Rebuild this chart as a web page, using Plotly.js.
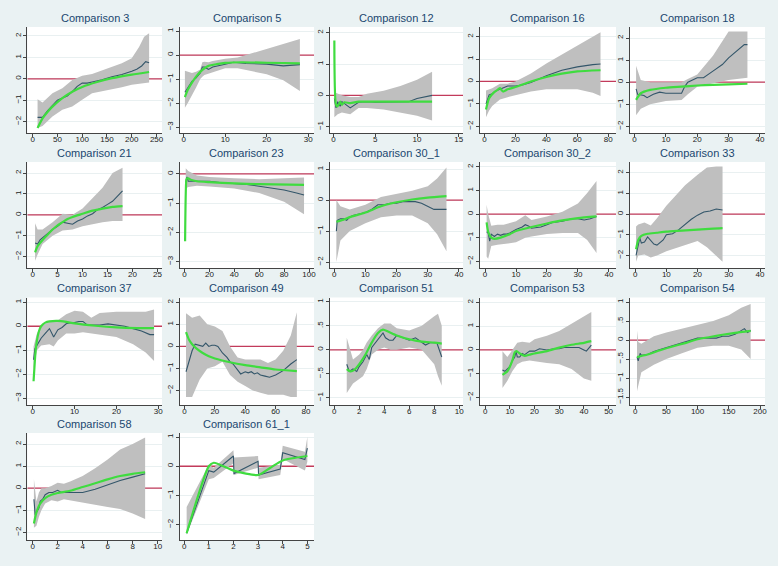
<!DOCTYPE html>
<html><head><meta charset="utf-8">
<script src="https://cdn.plot.ly/plotly-3.0.1.min.js"></script>
<style>html,body{margin:0;padding:0;background:#eaf2f3}#chart{width:778px;height:566px}</style>
</head><body><div id="chart"></div>
<script>
// ---------- DATA ----------
const titles = ['Comparison 3','Comparison 5','Comparison 12','Comparison 16','Comparison 18',
  'Comparison 21','Comparison 23','Comparison 30_1','Comparison 30_2','Comparison 33',
  'Comparison 37','Comparison 49','Comparison 51','Comparison 53','Comparison 54',
  'Comparison 58','Comparison 61_1'];

// Comparison 3
const c3_bx=[10,20,40,60,80,100,120,140,160,180,200,215,225,235];
const c3_hi=[-0.95,-1.1,-0.67,-0.44,-0.05,0.14,0.23,0.39,0.58,0.73,0.96,1.5,1.97,2.13];
const c3_lo=[-2.3,-2.2,-1.76,-1.45,-1.29,-0.98,-0.67,-0.59,-0.48,-0.39,-0.28,-0.23,-0.2,-0.17];
const c3_dx=[10,20,30,40,50,60,70,80,90,100,110,120,140,160,180,200,210,220,228,235];
const c3_dy=[-1.8,-1.8,-1.5,-1.25,-1.0,-0.9,-0.8,-0.6,-0.35,-0.2,-0.2,-0.15,-0.05,0.1,0.2,0.35,0.45,0.6,0.8,0.75];
const c3_gx=[10,20,30,40,60,80,100,130,160,200,235];
const c3_gy=[-2.3,-1.85,-1.55,-1.3,-0.9,-0.6,-0.38,-0.15,0.03,0.2,0.32];
// Comparison 5
const c5_bx=[0.3,1,2,3,4,4.5,5,6,7,10,13,16,20,24,28];
const c5_hi=[-0.65,-0.7,-0.75,-0.7,-0.6,-0.3,-0.28,-0.3,-0.25,-0.15,-0.1,0.05,0.25,0.45,0.67];
const c5_lo=[-2.2,-2.0,-1.7,-1.35,-1.0,-0.9,-0.83,-0.75,-0.7,-0.55,-0.55,-0.65,-0.8,-1.05,-1.5];
const c5_dx=[0.3,1,2,3,4,4.5,5,5.5,6,7,8,10,12,15,20,24,28];
const c5_dy=[-1.55,-1.35,-1.1,-0.95,-0.75,-0.5,-0.5,-0.55,-0.6,-0.5,-0.45,-0.38,-0.3,-0.35,-0.38,-0.45,-0.4];
const c5_gx=[0.3,1,2,3,4,5,6,8,10,14,20,28];
const c5_gy=[-1.75,-1.45,-1.15,-0.9,-0.7,-0.55,-0.45,-0.38,-0.33,-0.3,-0.32,-0.35];
// Comparison 12
const c12_bx=[0.1,0.5,1,2,3,4,6,8,10,11.8];
const c12_hi=[0.1,0.05,0.0,-0.05,-0.05,0.05,0.15,0.3,0.5,0.75];
const c12_lo=[-0.7,-0.6,-0.55,-0.6,-0.4,-0.4,-0.45,-0.55,-0.65,-0.8];
const c12_dx=[0.1,0.3,0.5,0.8,1,1.5,2,3,4,5,6,8,9,10,11,11.8];
const c12_dy=[-0.1,-0.4,-0.2,-0.35,-0.2,-0.3,-0.4,-0.22,-0.2,-0.22,-0.22,-0.2,-0.2,-0.1,-0.05,0];
const c12_gx=[0.1,0.3,0.5,0.8,1,1.3,2,3,5,8,11.8];
const c12_gy=[1.75,-0.3,-0.35,-0.2,-0.3,-0.22,-0.25,-0.2,-0.2,-0.2,-0.2];
// Comparison 16
const c16_bx=[1,3,5,10,15,20,30,40,50,60,70,75];
const c16_hi=[-0.4,-0.35,-0.3,-0.1,-0.1,0.0,0.35,0.8,1.2,1.6,2.0,2.2];
const c16_lo=[-1.6,-1.3,-1.1,-0.8,-0.7,-0.6,-0.45,-0.35,-0.35,-0.35,-0.5,-0.65];
const c16_dx=[1,3,5,8,10,15,20,25,30,40,50,60,70,75];
const c16_dy=[-1.0,-0.6,-0.55,-0.4,-0.35,-0.2,-0.2,-0.15,-0.05,0.25,0.5,0.65,0.75,0.78];
const c16_gx=[1,3,6,8,10,12,15,20,30,40,50,60,75];
const c16_gy=[-1.25,-0.75,-0.5,-0.4,-0.3,-0.45,-0.35,-0.25,0.0,0.2,0.35,0.45,0.5];
// Comparison 18
const c18_bx=[0.5,2,5,10,15,17,20,25,30,36];
const c18_hi=[0.75,0.1,0.0,0.0,0.0,0.15,0.35,1.2,2.3,2.3];
const c18_lo=[-1.5,-1.2,-1.0,-0.85,-0.8,-0.55,-0.2,-0.05,0.1,0.2];
const c18_dx=[0.5,1,3,4,6,8,10,12,15,16,17,20,22,25,28,30,33,35,36];
const c18_dy=[-0.3,-0.55,-0.6,-0.7,-0.55,-0.45,-0.5,-0.5,-0.5,-0.2,0.0,0.2,0.2,0.5,0.8,1.1,1.45,1.7,1.7];
const c18_gx=[0.5,2,5,10,15,20,25,30,36];
const c18_gy=[-0.8,-0.5,-0.35,-0.25,-0.2,-0.15,-0.12,-0.1,-0.07];
// Comparison 21
const c21_bx=[0.5,1,2,4,6,8,10,12,14,16,18];
const c21_hi=[-0.4,-0.7,-0.7,-0.35,0.05,0.0,0.3,0.8,1.3,2.0,2.25];
const c21_lo=[-2.2,-1.9,-1.4,-1.0,-0.75,-0.7,-0.55,-0.45,-0.35,-0.3,-0.3];
const c21_dx=[0.5,1,1.5,2,3,4,5,6,7,8,9,10,11,12,13,14,15,16,17,18];
const c21_dy=[-1.35,-1.4,-1.2,-1.1,-0.9,-0.7,-0.55,-0.35,-0.4,-0.45,-0.3,-0.2,-0.05,0.05,0.25,0.35,0.5,0.65,0.9,1.15];
const c21_gx=[0.5,1,2,3,4,5,6,7,8,10,12,14,16,18];
const c21_gy=[-1.8,-1.5,-1.2,-0.95,-0.7,-0.5,-0.35,-0.2,-0.1,0.05,0.2,0.3,0.38,0.42];
// Comparison 23
const c23_bx=[1,3,10,20,40,60,80,96];
const c23_hi=[0.2,0.1,-0.05,-0.1,-0.15,-0.18,-0.15,-0.12];
const c23_lo=[-0.5,-0.45,-0.4,-0.43,-0.5,-0.65,-0.95,-1.38];
const c23_dx=[1,2,3,5,10,20,30,40,50,60,70,80,90,96];
const c23_dy=[-0.3,-0.1,-0.25,-0.25,-0.25,-0.25,-0.3,-0.33,-0.36,-0.42,-0.48,-0.55,-0.65,-0.72];
const c23_gx=[0.5,1.5,2,3,5,10,20,40,60,96];
const c23_gy=[-2.3,-0.2,-0.15,-0.15,-0.2,-0.25,-0.28,-0.32,-0.35,-0.37];
// Comparison 30_1
const c30a_bx=[0.7,2,5,10,15,20,25,30,33,36];
const c30a_hi=[0.0,-0.2,-0.3,-0.15,0.1,0.2,0.3,0.45,0.7,1.05];
const c30a_lo=[-2.0,-1.3,-1.0,-0.75,-0.55,-0.5,-0.5,-0.75,-1.1,-1.65];
const c30a_dx=[0.7,1,2,3,4,5,6,8,10,12,14,16,18,20,22,24,26,28,30,32,34,36];
const c30a_dy=[-1.0,-0.65,-0.6,-0.6,-0.65,-0.55,-0.5,-0.45,-0.4,-0.3,-0.15,-0.15,-0.1,-0.1,-0.05,-0.05,-0.05,-0.1,-0.2,-0.3,-0.3,-0.3];
const c30a_gx=[0.7,3,5,10,15,20,25,30,36];
const c30a_gy=[-0.7,-0.63,-0.55,-0.4,-0.2,-0.07,0.02,0.08,0.13];
// Comparison 30_2
const c30b_bx=[0.5,1,2,4,6,10,13,15,20,25,30,33,36];
const c30b_hi=[0.4,0.0,-0.5,-0.45,-0.45,-0.3,-0.05,-0.25,-0.1,0.1,0.45,0.9,1.4];
const c30b_lo=[-1.8,-1.9,-1.35,-1.3,-1.25,-1.2,-1.0,-0.95,-0.85,-0.8,-0.8,-1.1,-1.65];
const c30b_dx=[0.5,1,1.5,2,3,4,5,6,7,8,10,12,13,14,15,18,20,22,25,28,30,32,34,35,36];
const c30b_dy=[-0.75,-0.8,-1.15,-0.85,-0.95,-0.85,-0.9,-0.85,-0.85,-0.8,-0.65,-0.55,-0.45,-0.5,-0.6,-0.55,-0.45,-0.35,-0.3,-0.2,-0.2,-0.25,-0.2,-0.15,-0.1];
const c30b_gx=[0.5,1,2,3,5,8,10,15,20,25,30,36];
const c30b_gy=[-0.35,-0.75,-1.0,-1.05,-1.0,-0.85,-0.72,-0.55,-0.4,-0.27,-0.17,-0.1];
// Comparison 33
const c33_bx=[0.3,1,3,5,7,10,13,16,20,23,26,28];
const c33_hi=[-0.6,-0.5,-0.4,-0.55,-0.2,0.4,0.9,1.4,1.9,2.25,2.3,2.3];
const c33_lo=[-2.3,-2.0,-1.95,-2.1,-2.0,-1.8,-1.65,-1.5,-1.3,-1.6,-2.0,-2.3];
const c33_dx=[0.3,1,1.5,2,3,4,5,6,7,8,9,10,12,14,16,18,20,22,24,25,26,28];
const c33_dy=[-2.0,-1.4,-1.15,-1.4,-1.35,-1.1,-1.3,-1.45,-1.5,-1.35,-1.25,-1.0,-0.95,-0.75,-0.5,-0.25,-0.05,0.1,0.15,0.2,0.25,0.2];
const c33_gx=[0.3,1,2,4,7,10,15,20,25,28];
const c33_gy=[-1.7,-1.25,-1.05,-0.95,-0.9,-0.85,-0.8,-0.75,-0.7,-0.68];
// Comparison 37
const c37_bx=[0.2,1,2,4,5,6,8,10,12,14,16,20,24,27,29];
const c37_hi=[-0.85,-0.3,0.0,0.2,0.25,0.25,0.5,0.65,0.6,0.35,0.55,0.6,0.6,0.6,0.7];
const c37_lo=[-1.8,-1.0,-0.8,-0.75,-0.85,-0.6,-0.3,-0.3,-0.25,-0.3,-0.35,-0.45,-0.75,-1.1,-1.45];
const c37_dx=[0.2,0.5,1,2,3,4,5,6,7,8,9,10,11,12,13,14,16,18,20,22,24,26,28,29];
const c37_dy=[-1.4,-0.95,-0.8,-0.5,-0.3,-0.1,-0.45,-0.15,-0.05,0.1,0.15,0.15,0.2,0.2,0.05,0.05,0.05,0.1,0.05,0.0,-0.1,-0.2,-0.35,-0.35];
const c37_gx=[0.2,0.7,1,1.5,2,3,4,6,8,10,15,20,25,29];
const c37_gy=[-2.3,-1.0,-0.6,-0.2,0.0,0.15,0.2,0.22,0.18,0.12,0.02,-0.05,-0.08,-0.08];
// Comparison 49
const c49_bx=[1,5,10,15,20,25,30,35,40,45,50,55,60,65,70,74];
const c49_hi=[1.5,1.3,1.4,1.0,0.9,0.7,0.0,-0.5,-0.6,-0.6,-0.6,-0.75,-0.6,-0.2,0.5,1.55];
const c49_lo=[-2.3,-2.3,-1.5,-1.0,-0.9,-0.7,-1.3,-1.6,-1.8,-2.0,-2.1,-2.2,-2.2,-2.2,-2.3,-2.3];
const c49_dx=[1,3,5,7,10,12,14,16,18,20,22,25,28,30,32,35,37,40,42,44,46,48,50,53,56,60,65,70,74];
const c49_dy=[-1.15,-0.7,-0.2,0.1,0.05,0.0,0.15,0.0,0.05,0.05,0.0,-0.3,-0.5,-0.7,-0.8,-1.1,-1.25,-1.15,-1.2,-1.15,-1.25,-1.2,-1.3,-1.35,-1.4,-1.3,-1.1,-0.8,-0.6];
const c49_gx=[1,3,5,8,12,16,20,30,40,50,60,74];
const c49_gy=[0.65,0.3,0.1,-0.1,-0.3,-0.45,-0.55,-0.72,-0.85,-0.95,-1.05,-1.12];
// Comparison 51
const c51_bx=[1,1.5,2,2.3,2.6,3,3.5,4,4.5,5,6,7,8,8.3,8.6];
const c51_hi=[0.25,-0.2,-0.1,0.0,0.15,0.3,0.45,0.55,0.55,0.45,0.4,0.5,0.7,0.75,0.5];
const c51_lo=[-0.9,-0.7,-0.6,-0.55,-0.4,-0.1,0.0,0.05,0.0,0.0,0.05,0.0,-0.3,-0.55,-0.75];
const c51_dx=[1,1.2,1.5,1.8,2,2.3,2.6,2.8,3,3.3,3.6,3.9,4.1,4.4,4.7,5,5.5,6,6.5,7,7.3,7.7,8.2,8.6];
const c51_dy=[-0.3,-0.45,-0.4,-0.45,-0.35,-0.25,-0.1,-0.2,0.05,0.15,0.25,0.35,0.25,0.2,0.2,0.3,0.25,0.2,0.25,0.15,0.1,0.15,0.15,-0.15];
const c51_gx=[1,1.3,1.6,2,2.5,3,3.5,3.9,4.3,5,6,7,8,8.6];
const c51_gy=[-0.4,-0.45,-0.42,-0.3,-0.1,0.15,0.35,0.42,0.38,0.3,0.22,0.17,0.15,0.13];
// Comparison 53
const c53_bx=[7,9,11,13,15,18,20,25,30,35,40,43];
const c53_hi=[-0.05,-0.3,0.0,0.3,0.35,0.3,0.45,0.6,0.8,1.1,1.4,1.6];
const c53_lo=[-1.6,-1.3,-0.9,-0.6,-0.5,-0.45,-0.5,-0.55,-0.6,-0.8,-1.2,-1.3];
const c53_dx=[7,8,9,10,11,12,12.5,13,14,15,16,18,20,22,25,28,30,32,35,38,40,41,43];
const c53_dy=[-0.85,-0.9,-0.8,-0.7,-0.45,-0.3,-0.05,-0.3,-0.3,-0.15,-0.2,-0.05,-0.05,0.05,0.0,0.05,0.05,0.1,0.1,0.1,0.0,-0.05,0.2];
const c53_gx=[7,9,11,12,12.7,14,16,18,20,25,30,35,40,43];
const c53_gy=[-1.05,-0.9,-0.45,-0.1,-0.05,-0.15,-0.25,-0.2,-0.15,-0.05,0.1,0.22,0.3,0.37];
// Comparison 54
const c54_bx=[3,5,10,20,30,50,75,100,125,150,170,185];
const c54_hi=[0.25,-0.05,-0.1,0.0,0.1,0.2,0.3,0.4,0.5,0.65,0.85,0.95];
const c54_lo=[-1.35,-1.2,-0.85,-0.75,-0.65,-0.5,-0.35,-0.2,-0.15,-0.15,-0.25,-0.5];
const c54_dx=[3,5,8,10,20,30,40,50,60,70,80,90,100,110,120,130,140,150,160,170,175,180,185];
const c54_dy=[-0.45,-0.55,-0.35,-0.4,-0.38,-0.3,-0.25,-0.2,-0.15,-0.1,-0.05,0.0,0.05,0.05,0.05,0.05,0.1,0.1,0.15,0.25,0.3,0.2,0.25];
const c54_gx=[3,10,20,40,60,80,100,120,140,160,185];
const c54_gy=[-0.45,-0.42,-0.38,-0.27,-0.17,-0.08,0.02,0.08,0.14,0.19,0.24];
// Comparison 58
const c58_bx=[0.1,0.3,0.5,0.7,1,1.5,2,2.5,3,4,5,6,7,8,9];
const c58_hi=[0.4,-0.6,-0.2,0.0,0.0,0.1,0.25,0.2,0.3,0.55,0.9,1.3,1.75,2.0,2.3];
const c58_lo=[-1.8,-1.7,-1.3,-1.0,-0.7,-0.55,-0.6,-0.5,-0.55,-0.65,-0.75,-0.85,-0.95,-1.15,-1.4];
const c58_dx=[0.1,0.2,0.3,0.5,0.6,0.8,1,1.3,1.6,2,2.3,3,4,5,6,7,8,9];
const c58_dy=[-0.5,-1.2,-1.1,-0.9,-0.6,-0.5,-0.3,-0.2,-0.2,-0.1,-0.2,-0.2,-0.2,-0.05,0.15,0.35,0.5,0.65];
const c58_gx=[0.1,0.3,0.6,1,1.5,2,3,4,5,6,7,8,9];
const c58_gy=[-1.6,-1.1,-0.7,-0.45,-0.3,-0.22,-0.12,0.05,0.22,0.4,0.55,0.65,0.72];
// Comparison 61_1
const c61_bx=[0.1,1.0,1.2,2.0,2.02,3.0,3.02,3.9,4.0,4.9,5.0];
const c61_hi=[-1.4,0.05,-0.05,0.55,0.3,0.35,-0.05,0.05,0.7,0.5,1.0];
const c61_lo=[-2.35,-0.45,-0.4,0.1,-0.3,-0.05,-0.45,-0.3,0.25,-0.15,0.15];
const c61_dx=[0.1,1.0,1.2,2.0,2.02,3.0,3.02,3.9,4.0,4.9,5.0];
const c61_dy=[-2.3,-0.15,-0.2,0.35,-0.25,0.17,-0.3,-0.1,0.46,0.23,0.62];
const c61_gx=[0.1,1.0,1.2,2.0,3.0,3.5,4.0,5.0];
const c61_gy=[-2.3,0.0,0.12,-0.15,-0.3,-0.05,0.2,0.35];

// tick values
const xTicks=[[0,50,100,150,200,250],[0,10,20,30],[0,5,10,15],[0,20,40,60,80],[0,10,20,30,40],
  [0,5,10,15,20,25],[0,20,40,60,80,100],[0,10,20,30,40],[0,10,20,30,40],[0,10,20,30,40],
  [0,10,20,30],[0,20,40,60,80],[0,2,4,6,8,10],[0,10,20,30,40,50],[0,50,100,150,200],
  [0,2,4,6,8,10],[0,1,2,3,4,5]];
const yTicks=[[-2,-1,0,1,2],[-3,-2,-1,0,1],[-1,0,1,2],[-2,-1,0,1,2],[-2,-1,0,1,2],
  [-2,-1,0,1,2],[-3,-2,-1,0],[-2,-1,0,1],[-2,-1,0,1,2],[-2,-1,0,1,2],
  [-3,-2,-1,0,1],[-2,-1,0,1,2],[-1,-0.5,0,0.5,1],[-2,-1,0,1,2],[-1.5,-1,-0.5,0,0.5,1],
  [-2,-1,0,1,2],[-2,-1,0,1]];

const panels=[
 [c3_bx,c3_lo,c3_hi,c3_dx,c3_dy,c3_gx,c3_gy],
 [c5_bx,c5_lo,c5_hi,c5_dx,c5_dy,c5_gx,c5_gy],
 [c12_bx,c12_lo,c12_hi,c12_dx,c12_dy,c12_gx,c12_gy],
 [c16_bx,c16_lo,c16_hi,c16_dx,c16_dy,c16_gx,c16_gy],
 [c18_bx,c18_lo,c18_hi,c18_dx,c18_dy,c18_gx,c18_gy],
 [c21_bx,c21_lo,c21_hi,c21_dx,c21_dy,c21_gx,c21_gy],
 [c23_bx,c23_lo,c23_hi,c23_dx,c23_dy,c23_gx,c23_gy],
 [c30a_bx,c30a_lo,c30a_hi,c30a_dx,c30a_dy,c30a_gx,c30a_gy],
 [c30b_bx,c30b_lo,c30b_hi,c30b_dx,c30b_dy,c30b_gx,c30b_gy],
 [c33_bx,c33_lo,c33_hi,c33_dx,c33_dy,c33_gx,c33_gy],
 [c37_bx,c37_lo,c37_hi,c37_dx,c37_dy,c37_gx,c37_gy],
 [c49_bx,c49_lo,c49_hi,c49_dx,c49_dy,c49_gx,c49_gy],
 [c51_bx,c51_lo,c51_hi,c51_dx,c51_dy,c51_gx,c51_gy],
 [c53_bx,c53_lo,c53_hi,c53_dx,c53_dy,c53_gx,c53_gy],
 [c54_bx,c54_lo,c54_hi,c54_dx,c54_dy,c54_gx,c54_gy],
 [c58_bx,c58_lo,c58_hi,c58_dx,c58_dy,c58_gx,c58_gy],
 [c61_bx,c61_lo,c61_hi,c61_dx,c61_dy,c61_gx,c61_gy]
];

// ---------- LAYOUT ----------
const W=778,H=566;
const colL=[27.3,179.5,329.5,479.5,629.5], colR=[162,314,463,616,765];
const rowT=[27,162,297.5,433], rowB=[133,268.3,405,540];
const xRange=[[-10.7,261],[-1.0,31.4],[-0.48,15.5],[-3.2,85],[-1.6,41.6],
  [-1.06,25.9],[-4,104],[-1.5,41.3],[-1.8,42.3],[-1.8,41.6],
  [-1.3,30.9],[-3.3,85.3],[-0.38,10.3],[-2.3,53],[-9,208],
  [-0.43,10.35],[-0.19,5.27]];
const yRange=[[-2.53,2.42],[-3.25,1.17],[-1.2,2.18],[-2.3,2.43],[-2.3,2.5],
  [-2.56,2.53],[-3.23,0.41],[-2.2,1.23],[-2.3,2.21],[-2.62,2.52],
  [-3.29,1.2],[-2.66,2.22],[-1.15,1.09],[-2.32,2.21],[-1.71,1.12],
  [-2.35,2.5],[-2.53,1.14]];

function fmt(v){
  let s=String(Math.abs(v));
  if(s.startsWith('0.')) s=s.slice(1);
  return (v<0?'\u2212':'')+s;
}

const font='"Liberation Sans", Arial, Helvetica, sans-serif';
const traces=[], annotations=[];
const layout={
  width:W,height:H,margin:{l:0,r:0,t:0,b:0},
  paper_bgcolor:'#eaf2f3',plot_bgcolor:'#ffffff',
  showlegend:false,font:{family:font,color:'#222'}
};

panels.forEach((p,i)=>{
  const [bx,lo,hi,dx,dy,gx,gy]=p;
  const r=Math.floor(i/5), c=i%5;
  const s=i===0?'':String(i+1);
  const xa='x'+s, ya='y'+s;
  // reference line at zero across the axis range (drawn first, under the band)
  traces.push({x:xRange[i],y:[0,0],xaxis:xa,yaxis:ya,mode:'lines',
    line:{color:'#c23b5b',width:1.3},hoverinfo:'skip',cliponaxis:true});
  traces.push({x:bx.concat(bx.slice().reverse()),y:hi.concat(lo.slice().reverse()),
    xaxis:xa,yaxis:ya,mode:'lines',fill:'toself',fillcolor:'#bfbfbf',
    line:{width:0,color:'#bfbfbf'},hoverinfo:'skip'});
  traces.push({x:dx,y:dy,xaxis:xa,yaxis:ya,mode:'lines',
    line:{color:'#33566a',width:1.1}});
  traces.push({x:gx,y:gy,xaxis:xa,yaxis:ya,mode:'lines',
    line:{color:'#3fdc3f',width:2.2,shape:'spline',smoothing:0.6}});
  layout['xaxis'+s]={
    domain:[colL[c]/W,colR[c]/W],range:xRange[i],anchor:ya,
    tickvals:xTicks[i],ticktext:xTicks[i].map(fmt),
    ticks:'outside',ticklen:3,tickcolor:'#444',tickwidth:1,ticklabelstandoff:-5,
    showline:true,linecolor:'#444',linewidth:1,
    showgrid:false,zeroline:false,
    tickfont:{size:8,color:'#222',family:font}
  };
  layout['yaxis'+s]={
    domain:[(H-rowB[r])/H,(H-rowT[r])/H],range:yRange[i],anchor:xa,
    tickvals:yTicks[i],ticktext:yTicks[i].map(fmt),tickangle:-90,
    ticks:'outside',ticklen:3,tickcolor:'#444',tickwidth:1,ticklabelstandoff:-1,
    showline:true,linecolor:'#444',linewidth:1,
    showgrid:true,gridcolor:'#e9f0f1',gridwidth:1,zeroline:false,
    tickfont:{size:8,color:'#222',family:font}
  };
  annotations.push({text:titles[i],xref:'paper',yref:'paper',
    x:(colL[c]+colR[c])/2/W,y:(H-rowT[r]+1)/H,xanchor:'center',yanchor:'bottom',
    showarrow:false,font:{size:11,color:'#1a476f',family:font}});
});
layout.annotations=annotations;
Plotly.newPlot('chart',traces,layout,{displayModeBar:false,staticPlot:true});
</script></body></html>
